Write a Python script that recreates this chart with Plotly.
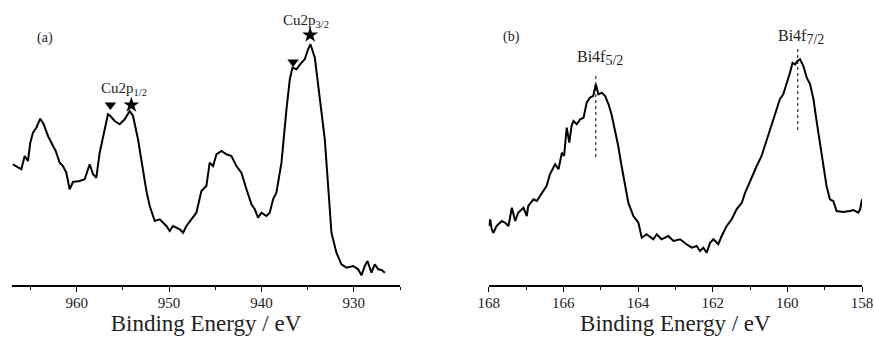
import plotly.graph_objects as go

# ---- Panel (a): Cu2p ----
cu_energy = [966.90, 966.35, 965.99, 965.63, 965.27, 965.02, 964.73, 964.37, 963.94, 963.57,
             963.10, 962.56, 962.27, 961.84, 961.48, 961.12, 960.76, 960.40, 959.68, 959.13,
             958.59, 958.23, 957.87, 957.51, 956.97, 956.61, 956.35, 955.88, 955.34, 954.80,
             954.26, 953.90, 953.36, 952.82, 952.45, 952.09, 951.55, 951.01, 950.29, 949.93,
             949.57, 948.84, 948.48, 948.12, 947.58, 947.04, 946.50, 945.96, 945.60, 945.23,
             944.87, 944.33, 943.79, 943.25, 942.71, 942.17, 941.62, 941.08, 940.72, 940.36,
             940.00, 939.46, 939.10, 938.74, 938.38, 937.83, 937.29, 936.93, 936.64, 936.21,
             935.67, 935.31, 934.95, 934.69, 934.22, 933.68, 933.14, 932.78, 932.42, 931.88,
             931.34, 930.79, 930.07, 929.53, 929.17, 928.81, 928.52, 928.09, 927.73, 927.36,
             927.00, 926.64]
cu_intensity = [120.7, 117.3, 115.7, 129.0, 124.0, 142.3, 152.3, 157.3, 166.3, 160.7,
                149.0, 139.0, 134.0, 122.3, 119.0, 112.3, 95.7, 103.0, 104.0, 105.7,
                120.7, 110.7, 107.3, 132.3, 155.7, 170.7, 169.0, 164.0, 160.7, 165.7,
                174.0, 169.0, 145.7, 112.3, 94.0, 79.0, 64.0, 65.7, 59.0, 54.0,
                59.0, 55.7, 52.3, 59.0, 65.7, 72.3, 94.0, 99.0, 122.3, 119.0,
                130.7, 134.0, 130.7, 129.0, 119.0, 112.3, 95.7, 80.7, 75.7, 67.3,
                72.3, 69.0, 72.3, 85.7, 92.3, 122.3, 175.7, 205.7, 217.3, 215.7,
                222.3, 225.7, 235.7, 240.7, 227.3, 185.7, 145.7, 99.0, 52.3, 32.3,
                20.7, 17.3, 19.0, 15.7, 9.7, 19.0, 24.0, 12.3, 20.7, 15.7,
                15.0, 12.3]

cu_tri_x = [956.35, 936.57]
cu_tri_y = [180, 223]
cu_star_x = [954.08, 934.73]
cu_star_y = [180, 250]

# ---- Panel (b): Bi4f ----
bi_energy = [168.00, 167.96, 167.92, 167.875, 167.79, 167.65, 167.56, 167.47, 167.38, 167.29,
             167.21, 167.07, 166.98, 166.94, 166.80, 166.71, 166.625, 166.54, 166.45, 166.36,
             166.22, 166.13, 166.04, 165.98, 165.91, 165.84, 165.78, 165.73, 165.64, 165.55,
             165.46, 165.375, 165.29, 165.20, 165.13, 165.06, 164.97, 164.88, 164.79, 164.71,
             164.62, 164.53, 164.44, 164.35, 164.26, 164.125, 163.99, 163.90, 163.77, 163.59,
             163.50, 163.37, 163.19, 163.05, 162.875, 162.70, 162.56, 162.43, 162.34, 162.25,
             162.16, 162.07, 161.98, 161.85, 161.76, 161.625, 161.49, 161.36, 161.22, 161.13,
             161.00, 160.91, 160.82, 160.69, 160.60, 160.46, 160.375, 160.29, 160.20, 160.11,
             160.02, 159.93, 159.86, 159.79, 159.73, 159.66, 159.57, 159.48, 159.39, 159.30,
             159.21, 159.125, 159.04, 158.95, 158.86, 158.77, 158.68, 158.50, 158.32, 158.23,
             158.10, 158.05, 158.00]
bi_intensity = [59.0, 65.7, 55.7, 52.3, 59.0, 64.0, 62.3, 59.0, 77.3, 64.0,
                72.3, 77.3, 69.0, 79.0, 85.7, 84.0, 89.0, 94.0, 99.0, 110.7,
                120.7, 115.7, 132.3, 129.0, 157.3, 142.3, 159.0, 164.0, 160.7, 165.7,
                167.3, 182.3, 187.3, 189.0, 200.7, 190.7, 192.3, 189.0, 180.7, 170.7,
                155.7, 139.0, 119.0, 99.0, 82.3, 69.0, 62.3, 47.3, 50.7, 45.7,
                50.7, 45.7, 49.0, 44.0, 45.7, 40.7, 37.3, 39.0, 34.0, 37.3,
                32.3, 42.3, 45.7, 40.7, 49.0, 59.0, 65.7, 75.7, 82.3, 92.3,
                104.0, 110.7, 119.0, 129.0, 139.0, 155.7, 164.0, 174.0, 185.7, 190.7,
                200.7, 212.3, 222.3, 220.7, 224.0, 225.7, 219.0, 207.3, 200.7, 185.7,
                162.3, 142.3, 119.0, 99.0, 85.7, 84.0, 74.0, 73.0, 74.0, 75.0,
                72.3, 75.7, 85.7]

bi_peak_x = [165.13, 159.72]
bi_peak_y0 = [128, 155]
bi_peak_y1 = [212, 238]

FONT = "Liberation Serif"

fig = go.Figure()
fig.add_trace(go.Scatter(x=cu_energy, y=cu_intensity, mode="lines",
                         line=dict(color="black", width=2), xaxis="x", yaxis="y",
                         showlegend=False))
fig.add_trace(go.Scatter(x=cu_tri_x, y=cu_tri_y, mode="markers",
                         marker=dict(symbol="triangle-down", size=10, color="black"),
                         xaxis="x", yaxis="y", showlegend=False))
fig.add_trace(go.Scatter(x=cu_star_x, y=cu_star_y, mode="markers",
                         marker=dict(symbol="star", size=12, color="black"),
                         xaxis="x", yaxis="y", showlegend=False))
fig.add_trace(go.Scatter(x=bi_energy, y=bi_intensity, mode="lines",
                         line=dict(color="black", width=2), xaxis="x2", yaxis="y2",
                         showlegend=False))
for px, y0, y1 in zip(bi_peak_x, bi_peak_y0, bi_peak_y1):
    fig.add_trace(go.Scatter(x=[px, px], y=[y0, y1], mode="lines",
                             line=dict(color="black", width=1, dash="dot"),
                             xaxis="x2", yaxis="y2", showlegend=False))

axis_common = dict(showline=True, linecolor="black", linewidth=1.5, ticks="outside",
                   ticklen=5, tickwidth=1.2, tickcolor="black", showgrid=False,
                   zeroline=False, mirror=False, automargin=False,
                   ticklabelstandoff=-2,
                   tickfont=dict(family=FONT, size=15, color="#222"),
                   title=dict(text="Binding Energy / eV",
                              font=dict(family=FONT, size=23, color="#222"), standoff=3))

fig.update_layout(
    width=875, height=339,
    margin=dict(l=0, r=0, t=5, b=54, autoexpand=False),
    paper_bgcolor="white", plot_bgcolor="white",
    font=dict(family=FONT, color="#222"),
    xaxis=dict(domain=[12/875, 400/875], range=[967, 925], dtick=10, tick0=960,
               minor=dict(ticks="outside", ticklen=3, dtick=5, tickcolor="black"),
               anchor="y", **axis_common),
    yaxis=dict(domain=[0, 1], range=[0, 280], visible=False, anchor="x"),
    xaxis2=dict(domain=[488.7/875, 862/875], range=[168, 158], dtick=2, tick0=158,
                minor=dict(ticks="outside", ticklen=3, dtick=1, tickcolor="black"),
                anchor="y2", **axis_common),
    yaxis2=dict(domain=[0, 1], range=[0, 280], visible=False, anchor="x2"),
)

ann_font = dict(family=FONT, size=15, color="#222")
fig.add_annotation(text="(a)", xref="paper", yref="paper", x=35/875, y=(339-28-54)/280,
                   showarrow=False, font=dict(family=FONT, size=14, color="#222"))
fig.add_annotation(text="(b)", xref="paper", yref="paper", x=511.7/875, y=(339-27-54)/280,
                   showarrow=False, font=dict(family=FONT, size=14, color="#222"))
fig.add_annotation(text="Cu2p<sub>1/2</sub>", x=954.9, y=196, xref="x", yref="y",
                   showarrow=False, font=ann_font)
fig.add_annotation(text="Cu2p<sub>3/2</sub>", x=935.2, y=264, xref="x", yref="y",
                   showarrow=False, font=ann_font)
fig.add_annotation(text="Bi4f<sub><span style='font-size:14px'>5/2</span></sub>",
                   x=165.02, y=227, xref="x2", yref="y2", showarrow=False,
                   font=dict(family=FONT, size=16, color="#222"))
fig.add_annotation(text="Bi4f<sub><span style='font-size:14px'>7/2</span></sub>",
                   x=159.63, y=248, xref="x2", yref="y2", showarrow=False,
                   font=dict(family=FONT, size=16, color="#222"))

fig.write_html("out.html")
